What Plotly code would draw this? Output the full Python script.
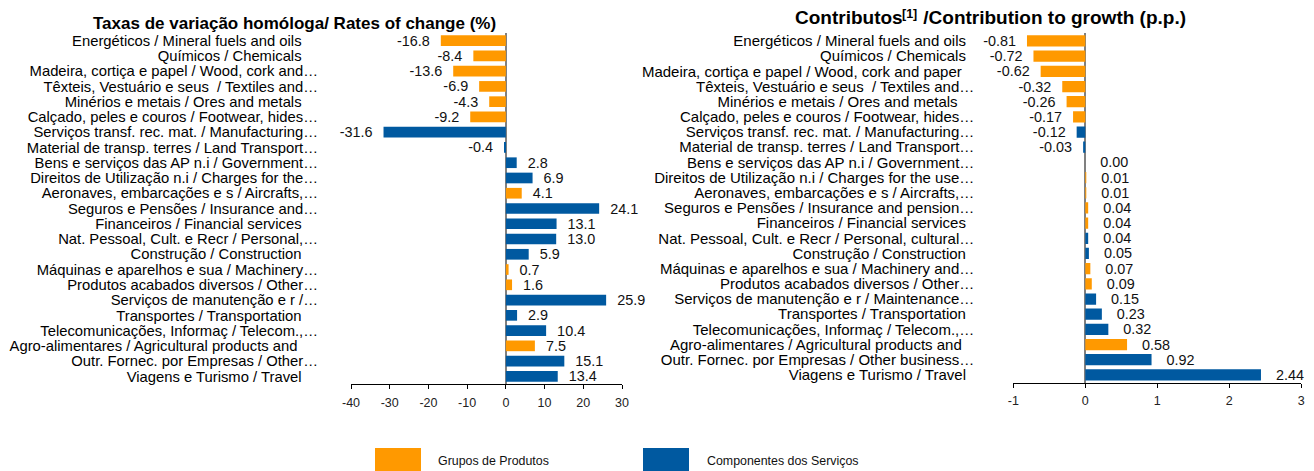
import plotly.graph_objects as go

W, H = 1314, 471
OFF = 8  # page body margin offset

# category labels (trailing spaces are part of the source labels)
labels_left = [
    "Energéticos / Mineral fuels and oils    ",
    "Químicos / Chemicals    ",
    "Madeira, cortiça e papel / Wood, cork and…",
    "Têxteis, Vestuário e seus  / Textiles and…",
    "Minérios e metais / Ores and metals    ",
    "Calçado, peles e couros / Footwear, hides…",
    "Serviços transf. rec. mat. / Manufacturing…",
    "Material de transp. terres / Land Transport…",
    "Bens e serviços das AP n.i / Government…",
    "Direitos de Utilização n.i / Charges for the…",
    "Aeronaves, embarcações e s / Aircrafts,…",
    "Seguros e Pensões / Insurance and…",
    "Financeiros / Financial services    ",
    "Nat. Pessoal, Cult. e Recr / Personal,…",
    "Construção / Construction    ",
    "Máquinas e aparelhos e sua / Machinery…",
    "Produtos acabados diversos / Other…",
    "Serviços de manutenção e r /…",
    "Transportes / Transportation    ",
    "Telecomunicações, Informaç / Telecom.,…",
    "Agro-alimentares / Agricultural products and     ",
    "Outr. Fornec. por Empresas / Other…",
    "Viagens e Turismo / Travel    ",
]
labels_right = [
    "Energéticos / Mineral fuels and oils  ",
    "Químicos / Chemicals  ",
    "Madeira, cortiça e papel / Wood, cork and paper   ",
    "Têxteis, Vestuário e seus  / Textiles and…",
    "Minérios e metais / Ores and metals    ",
    "Calçado, peles e couros / Footwear, hides…",
    "Serviços transf. rec. mat. / Manufacturing…",
    "Material de transp. terres / Land Transport…",
    "Bens e serviços das AP n.i / Government…",
    "Direitos de Utilização n.i / Charges for the use…",
    "Aeronaves, embarcações e s / Aircrafts,…",
    "Seguros e Pensões / Insurance and pension…",
    "Financeiros / Financial services  ",
    "Nat. Pessoal, Cult. e Recr / Personal, cultural…",
    "Construção / Construction  ",
    "Máquinas e aparelhos e sua / Machinery and…",
    "Produtos acabados diversos / Other…",
    "Serviços de manutenção e r / Maintenance…",
    "Transportes / Transportation  ",
    "Telecomunicações, Informaç / Telecom.,…",
    "Agro-alimentares / Agricultural products and   ",
    "Outr. Fornec. por Empresas / Other business…",
    "Viagens e Turismo / Travel  ",
]

rates = [-16.8, -8.4, -13.6, -6.9, -4.3, -9.2, -31.6, -0.4, 2.8, 6.9, 4.1, 24.1,
         13.1, 13.0, 5.9, 0.7, 1.6, 25.9, 2.9, 10.4, 7.5, 15.1, 13.4]
contrib = [-0.81, -0.72, -0.62, -0.32, -0.26, -0.17, -0.12, -0.03, 0.00, 0.01, 0.01,
           0.04, 0.04, 0.04, 0.05, 0.07, 0.09, 0.15, 0.23, 0.32, 0.58, 0.92, 2.44]

# P = Grupos de Produtos, S = Componentes dos Serviços
groups_left = ["P", "P", "P", "P", "P", "P", "S", "S", "S", "S", "P", "S",
               "S", "S", "S", "P", "P", "S", "S", "S", "P", "S", "S"]
groups_right = ["P", "P", "P", "P", "P", "P", "S", "S", "S", "P", "P", "P",
                "P", "S", "S", "P", "P", "S", "S", "S", "P", "S", "S"]

ticks_left = [-40, -30, -20, -10, 0, 10, 20, 30]
ticks_right = [-1, 0, 1, 2, 3]

legend_names = {"P": "Grupos de Produtos", "S": "Componentes dos Serviços"}
COLORS = {"P": "#FF9900", "S": "#0059A0"}
FONT = "Arial, 'Liberation Sans', sans-serif"
NB = "\u00a0"


def px(x):
    return (x - OFF) / W


def py(y):
    return 1 - (y - OFF) / H


def tick_text(labels):
    out = []
    for s in labels:
        core = s.rstrip(" ")
        out.append(core + NB * (len(s) - len(core)))
    return out


def bar_text(vals, fmt, npos, nneg):
    out = []
    for v in vals:
        s = fmt.format(v)
        out.append(s + NB * nneg if v < 0 else NB * npos + s)
    return out


fig = go.Figure()

fig.add_trace(go.Bar(
    x=rates, y=labels_left, orientation="h",
    marker=dict(color=[COLORS[g] for g in groups_left], line=dict(width=0)),
    width=0.7,
    text=bar_text(rates, "{:.1f}", 2, 2), textposition="outside",
    textfont=dict(family=FONT, size=14.4, color="#111111"),
    constraintext="none", cliponaxis=False,
    xaxis="x", yaxis="y", showlegend=False,
))
fig.add_trace(go.Bar(
    x=contrib, y=labels_right, orientation="h",
    marker=dict(color=[COLORS[g] for g in groups_right], line=dict(width=0)),
    width=0.74,
    text=bar_text(contrib, "{:.2f}", 3, 2), textposition="outside",
    textfont=dict(family=FONT, size=14.4, color="#111111"),
    constraintext="none", cliponaxis=False,
    xaxis="x2", yaxis="y2", showlegend=False,
))

xcommon = dict(showgrid=False, showline=True, linecolor="#000000", linewidth=1.3,
               ticks="outside", ticklen=4, tickcolor="#000000",
               zeroline=True, zerolinecolor="#808080", zerolinewidth=1.5,
               automargin=False,
               tickfont=dict(family=FONT, size=12.5, color="#222222"), fixedrange=True)
ycommon = dict(showgrid=False, showline=False, ticks="", autorange="reversed",
               automargin=False, fixedrange=True)

fig.update_layout(
    width=W, height=H,
    margin=dict(l=0, r=0, t=0, b=0, pad=0, autoexpand=False),
    paper_bgcolor="white", plot_bgcolor="white",
    xaxis=dict(domain=[px(351), px(622)], range=[-40, 30], anchor="y",
               tickmode="array", tickvals=ticks_left, ticklabelstandoff=3,
               ticktext=[str(t) for t in ticks_left], **xcommon),
    yaxis=dict(domain=[py(384), py(33)], anchor="x", ticklabelstandoff=32,
               categoryorder="array", categoryarray=labels_left,
               tickmode="array", tickvals=labels_left, ticktext=tick_text(labels_left),
               tickfont=dict(family=FONT, size=14.8, color="#000000"),
               **ycommon),
    xaxis2=dict(domain=[px(1013.3), px(1301.3)], range=[-1, 3], anchor="y2",
                tickmode="array", tickvals=ticks_right, ticklabelstandoff=2,
                ticktext=[str(t) for t in ticks_right], **xcommon),
    yaxis2=dict(domain=[py(382.5), py(33.4)], anchor="x2", ticklabelstandoff=38,
                categoryorder="array", categoryarray=labels_right,
                tickmode="array", tickvals=labels_right, ticktext=tick_text(labels_right),
                tickfont=dict(family=FONT, size=15, color="#000000"),
                **ycommon),
    font=dict(family=FONT, color="#000000"),
)

fig.add_annotation(text="<b>Taxas de variação homóloga/ Rates of change (%)</b>",
                   x=px(294.5), y=py(23.5), xref="paper", yref="paper",
                   xanchor="center", yanchor="middle", showarrow=False,
                   font=dict(family=FONT, size=17, color="#000000"))

# right title in three pieces (superscript reference mark drawn smaller and raised)
title_r_parts = [("<b>Contributos</b>", 793, 18, 19),
                 ("<b>[1]</b>", 900, 14, 12.5),
                 ("<b> /Contribution to growth (p.p.)</b>", 916, 18, 19)]
for txt, x0, yc, fs in title_r_parts:
    fig.add_annotation(text=txt, x=px(x0), y=py(yc), xref="paper", yref="paper",
                       xanchor="left", yanchor="middle", showarrow=False,
                       font=dict(family=FONT, size=fs, color="#000000"))

# legend (manual)
legend_items = [("P", 375, 436), ("S", 643, 705)]
for g, sx, tx in legend_items:
    fig.add_shape(type="rect", xref="paper", yref="paper",
                  x0=px(sx), x1=px(sx + 46), y0=py(472), y1=py(448),
                  fillcolor=COLORS[g], line=dict(width=0))
    fig.add_annotation(text=legend_names[g], x=px(tx), y=py(461),
                       xref="paper", yref="paper", xanchor="left", yanchor="middle",
                       showarrow=False, font=dict(family=FONT, size=12.4, color="#111111"))

fig.write_html("out.html")
